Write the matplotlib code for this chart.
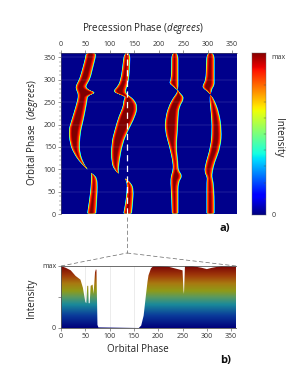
import numpy as np
import matplotlib
matplotlib.use('Agg')
import matplotlib.pyplot as plt
from matplotlib.colors import LinearSegmentedColormap
from matplotlib.lines import Line2D
from matplotlib.patches import Polygon, PathPatch
from matplotlib.path import Path

plt.rcParams['font.family'] = ['Open Sans', 'DejaVu Sans']
plt.rcParams['mathtext.fontset'] = 'custom'
plt.rcParams['mathtext.it'] = 'Open Sans:italic'
plt.rcParams['mathtext.rm'] = 'Open Sans'

# band pieces: orbital phase, left edge, right edge (degrees)
b1_low_y = [2, 38, 60, 80, 88, 91]
b1_low_l = [53, 58, 60, 61, 61, 61]
b1_low_r = [73, 75, 76, 75, 68, 63]
b1_up_y = [100, 114, 136, 158, 188, 200, 225, 255, 265, 271, 276, 283, 290, 302, 325, 350, 360]
b1_up_l = [53, 39, 25, 17, 15, 18, 25, 33, 34, 33, 31, 29, 31, 37, 43, 49, 50]
b1_up_r = [55, 47, 40, 39, 42, 45, 50, 55, 56, 73, 60, 52, 54, 61, 66, 72, 73]

b2_low_y = [2, 24, 54, 69, 78, 80]
b2_low_l = [127, 131, 134, 134, 131, 130]
b2_low_r = [146, 148, 150, 145, 133, 131]
b2_up_y = [91, 98, 114, 158, 188, 218, 240, 255, 262, 268, 274, 285, 300, 330, 360]
b2_up_l = [116, 109, 102, 102, 109, 117, 126, 127, 131, 118, 105, 115, 121, 125, 128]
b2_up_r = [118, 119, 120, 127, 139, 153, 158, 151, 143, 136, 133, 136, 140, 142, 143]

b3_low_y = [2, 38, 71, 85, 98, 114, 150, 188, 217, 240, 259, 270, 277]
b3_low_l = [226, 225, 223, 224, 228, 228, 221, 211, 213, 219, 228, 236, 238]
b3_low_r = [241, 241, 241, 250, 241, 241, 237, 240, 241, 243, 254, 245, 239]
b3_up_y = [279, 286, 293, 300, 330, 360]
b3_up_l = [235, 228, 220, 224, 225, 225]
b3_up_r = [240, 241, 241, 241, 241, 241]

b4_low_y = [2, 40, 72, 83, 94, 114, 150, 188, 226, 255, 266]
b4_low_l = [297, 297, 297, 298, 292, 295, 305, 308, 306, 303, 304]
b4_low_r = [315, 315, 313, 310, 311, 315, 328, 330, 325, 315, 307]
b4_up_y = [268, 275, 282, 288, 300, 330, 360]
b4_up_l = [305, 298, 289, 289, 295, 296, 297]
b4_up_r = [307, 309, 311, 315, 315, 315, 315]

bands = [
    (b1_low_y, b1_low_l, b1_low_r), (b1_up_y, b1_up_l, b1_up_r),
    (b2_low_y, b2_low_l, b2_low_r), (b2_up_y, b2_up_l, b2_up_r),
    (b3_low_y, b3_low_l, b3_low_r), (b3_up_y, b3_up_l, b3_up_r),
    (b4_low_y, b4_low_l, b4_low_r), (b4_up_y, b4_up_l, b4_up_r),
]

# lower panel: intensity against orbital phase, cut along the dashed line
orb_phase = [0, 10, 20, 30, 40, 45, 50, 52, 54, 56, 57, 59, 61, 65, 67, 70, 72, 73, 75, 77,
             160, 165, 170, 175, 178, 180, 185, 190, 200, 220, 240, 250, 252, 253, 255,
             270, 290, 300, 310, 330, 360]
orb_int = [1.0, 0.97, 0.93, 0.84, 0.78, 0.65, 0.42, 0.4, 0.68, 0.68, 0.4, 0.4, 0.68, 0.7, 0.55, 0.9, 0.95, 0.93, 0.05, 0.01,
           0.0, 0.04, 0.2, 0.55, 0.75, 0.85, 0.96, 1.0, 1.0, 0.99, 0.95, 0.93, 0.6, 0.55, 1.0,
           1.0, 0.97, 0.95, 0.97, 1.0, 0.99]

ticks_x = [0, 50, 100, 150, 200, 250, 300, 350]
ticks_y = [0, 50, 100, 150, 200, 250, 300, 350]

W, H = 296, 390
fig = plt.figure(figsize=(W / 100, H / 100), dpi=100)


def box(x0, y0, x1, y1):
    return [x0 / W, 1 - y1 / H, (x1 - x0) / W, (y1 - y0) / H]


def rounded_outline(pts):
    # read points act as control points of quadratic curves, so corners come out soft
    pts = np.array(pts, float)
    verts = [pts[0]]
    codes = [Path.MOVETO]
    for i in range(1, len(pts) - 1):
        verts += [pts[i], (pts[i] + pts[i + 1]) / 2]
        codes += [Path.CURVE3, Path.CURVE3]
    verts.append(pts[-1])
    codes.append(Path.LINETO)
    verts.append(pts[0])
    codes.append(Path.CLOSEPOLY)
    return Path(verts, codes)


# top panel
ax = fig.add_axes(box(61, 53, 237, 214))
ax.set_facecolor('#00008b')
ax.set_xlim(0, 360)
ax.set_ylim(0, 360)
for yy in [50, 100, 150, 200, 250, 300, 350]:
    ax.axhline(yy, color='white', alpha=0.25, lw=0.35, zorder=5)

# nested outlines give the soft band edge, red to dark red takes the most width
levels = np.linspace(0.15, 1.0, 24)
for by, bl, br in bands:
    by = np.array(by, float)
    bl = np.array(bl, float)
    br = np.array(br, float)
    mid = (bl + br) / 2
    for lev in levels:
        step = lev + 6 * max(0, lev - 0.85)
        left = np.minimum(bl + step * 3.5, mid)
        right = np.maximum(br - step * 4.5, mid)
        pts = list(zip(left, by)) + list(zip(right, by))[::-1]
        ax.add_patch(PathPatch(rounded_outline(pts), fc=plt.cm.jet(lev), ec='none', zorder=2))

ax.axvline(135, color='white', lw=0.9, ls=(0, (5, 3.5)), zorder=6)
ax.xaxis.tick_top()
ax.set_xticks(ticks_x)
ax.set_yticks(ticks_y)
ax.set_yticks(np.arange(0, 361, 10), minor=True)
ax.tick_params(axis='both', labelsize=5, length=2, width=0.4, pad=1.5, color='#444444', labelcolor='#333333')
ax.tick_params(axis='y', which='minor', length=1.2, width=0.3, color='#444444')
for s in ['right', 'bottom']:
    ax.spines[s].set_visible(False)
for s in ['top', 'left']:
    ax.spines[s].set_linewidth(0.4)
    ax.spines[s].set_color('#555555')

fig.text(143 / W, 1 - 28 / H, 'Precession Phase ($\\mathit{degrees}$)', fontsize=7, ha='center', va='center', color='#222222')
fig.text(33 / W, 1 - 133 / H, 'Orbital Phase  ($\\mathit{degrees}$)', fontsize=7, rotation=90, ha='center', va='center', color='#222222')
fig.text(225 / W, 1 - 228 / H, 'a)', fontsize=8, fontweight='bold', ha='center', va='center', color='#111111')

# colour bar
cax = fig.add_axes(box(252, 53, 266, 215))
grad = np.linspace(0, 1, 256).reshape(-1, 1)
cax.imshow(grad, cmap='jet', aspect='auto', origin='lower', extent=[0, 1, 0, 1])
cax.set_xlim(0, 1)
cax.set_ylim(0, 1)
cax.set_xticks([])
cax.yaxis.tick_right()
cax.set_yticks([0.005, 0.98])
cax.set_yticklabels(['0', 'max'])
cax.tick_params(axis='y', labelsize=5, length=0, pad=4, labelcolor='#333333')
for yy in np.arange(0.1, 1, 0.1):
    cax.plot([0.85, 1], [yy, yy], color='#444444', lw=0.3)
for s in cax.spines.values():
    s.set_linewidth(0.3)
    s.set_color('#666666')
fig.text(279 / W, 1 - 138 / H, 'Intensity', fontsize=7, rotation=-90, ha='center', va='center', color='#222222')

# bottom panel
bx = fig.add_axes(box(61, 266, 236, 328))
muted = LinearSegmentedColormap.from_list('muted', [
    (0.0, '#00007a'), (0.2, '#0a3a9a'), (0.38, '#1a8a9a'), (0.5, '#5a9a60'),
    (0.6, '#8f9a18'), (0.72, '#a87a10'), (0.85, '#a03a0a'), (1.0, '#7a0505')])
bx.set_xlim(0, 360)
bx.set_ylim(0, 1)
im = bx.imshow(np.linspace(0, 1, 256).reshape(-1, 1), cmap=muted, aspect='auto', origin='lower', extent=[0, 360, 0, 1], zorder=2)
clip = Polygon(list(zip(orb_phase, orb_int)) + [(360, 0), (0, 0)], closed=True, transform=bx.transData, fc='none', ec='none')
bx.add_patch(clip)
im.set_clip_path(clip)
for xx in [50, 100, 150]:
    bx.axvline(xx, color='#dddddd', lw=0.4, zorder=1)
bx.set_xticks(ticks_x)
bx.set_yticks([0, 0.5, 1])
bx.set_yticklabels(['0', '', 'max'])
bx.tick_params(axis='both', labelsize=5, length=2, width=0.4, pad=1.5, color='#444444', labelcolor='#333333')
for s in ['right']:
    bx.spines[s].set_visible(False)
for s in ['top', 'left', 'bottom']:
    bx.spines[s].set_linewidth(0.6)
    bx.spines[s].set_color('#555555')
fig.text(138 / W, 1 - 350 / H, 'Orbital Phase', fontsize=7, ha='center', va='center', color='#222222')
fig.text(32 / W, 1 - 298 / H, 'Intensity', fontsize=7, rotation=90, ha='center', va='center', color='#222222')
fig.text(226 / W, 1 - 360 / H, 'b)', fontsize=8, fontweight='bold', ha='center', va='center', color='#111111')

# dashed leader from the cut to the lower panel
dash = (0, (6, 3.5))
for xs, ys in [([127, 127], [217, 253]), ([61, 127], [266, 253]), ([127, 236], [253, 266])]:
    fig.add_artist(Line2D([v / W for v in xs], [1 - v / H for v in ys], color='#666666', lw=0.5, ls=dash))

fig.savefig('out.png', dpi=100)
